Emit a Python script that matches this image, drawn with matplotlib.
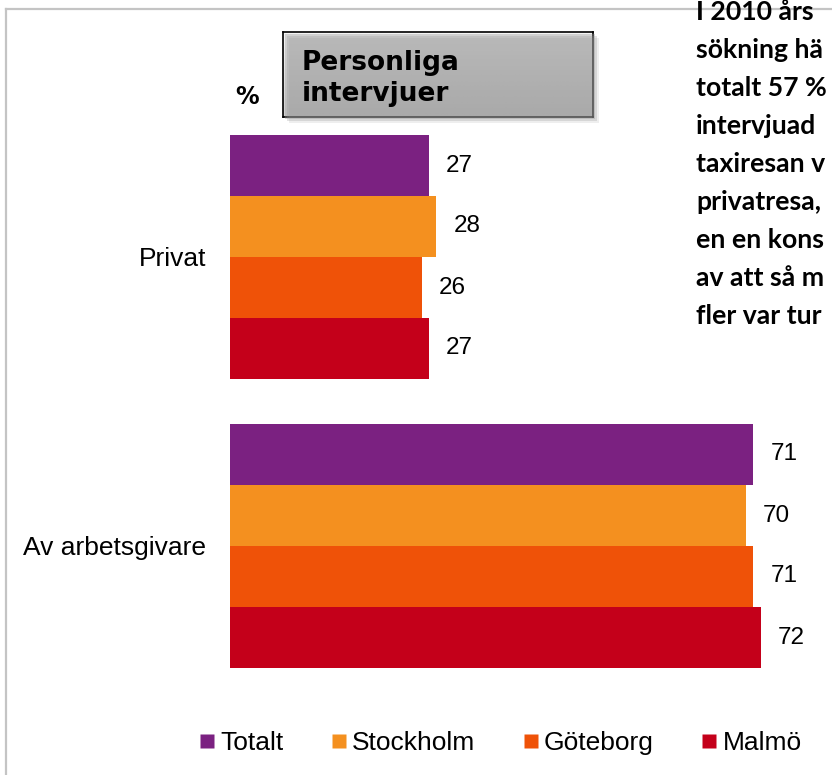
import matplotlib.pyplot as plt
import numpy as np
from matplotlib.lines import Line2D
from matplotlib.patches import Rectangle

# data
groups = ["Privat", "Av arbetsgivare"]
series = ["Totalt", "Stockholm", "Göteborg", "Malmö"]
values = {
    "Totalt":    [27, 71],
    "Stockholm": [28, 70],
    "Göteborg":  [26, 71],
    "Malmö":     [27, 72],
}
colors = ["#7B2181", "#F4901F", "#EF5208", "#C4001A"]
side_text = ["I 2010 års", "sökning hä", "totalt 57 %", "intervjuad",
             "taxiresan v", "privatresa,", "en en kons", "av att så m",
             "fler var tur"]

W, H = 832, 775
plt.rcParams['font.family'] = ['Liberation Sans', 'DejaVu Sans']

fig = plt.figure(figsize=(W / 100, H / 100), dpi=100)


def fx(x):
    return x / W


def fy(y):
    return 1 - y / H


# chart frame (only left and top edges visible)
fig.add_artist(Line2D([fx(6), fx(6)], [0, fy(9)], color="#c4c4c4", lw=1.6))
fig.add_artist(Line2D([fx(6), 1], [fy(9), fy(9)], color="#c4c4c4", lw=1.6))

# axes: x=0 at 230px, 7.37 px per unit
x0, scale = 230, 7.37
xmax = 80
top_px, bot_px = 120, 690
ax = fig.add_axes([fx(x0), fy(bot_px), xmax * scale / W, (bot_px - top_px) / H])
gap = 289.0
ax.set_ylim((bot_px - 257) / gap, -(257 - top_px) / gap)
ax.set_xlim(0, xmax)

h = 61 / gap
pos = np.arange(len(groups))
for i, s in enumerate(series):
    yy = pos + (i - 1.5) * h
    ax.barh(yy, values[s], height=h, color=colors[i], edgecolor="none")
    for y, v in zip(yy, values[s]):
        ax.text(v + 17 / scale, y, str(v), ha="left", va="center", fontsize=17.5)

ax.set_yticks(pos)
ax.set_yticklabels(groups, fontsize=19)
ax.tick_params(axis="y", length=0, pad=17)
ax.set_xticks([])
for sp in ax.spines.values():
    sp.set_visible(False)

# "%" label
fig.text(fx(247), fy(97), "%", fontsize=17, fontweight="bold",
         family="DejaVu Sans", ha="center", va="center")

# title box with shadow and gradient
bx0, by0, bx1, by1 = 283, 32, 593, 117
for d, a in [(6, 0.15), (4, 0.25), (2, 0.35)]:
    fig.add_artist(Rectangle((fx(bx0 + d), fy(by1 + d)), (bx1 - bx0) / W,
                             (by1 - by0) / H, facecolor="#909090",
                             edgecolor="none", alpha=a))
bax = fig.add_axes([fx(bx0), fy(by1), (bx1 - bx0) / W, (by1 - by0) / H])
grad = np.linspace(0.96, 0.81, 100).reshape(-1, 1)
bax.imshow(grad, aspect="auto", cmap="gray", vmin=0, vmax=1, extent=[0, 1, 0, 1])
bax.set_xticks([])
bax.set_yticks([])
for sp in bax.spines.values():
    sp.set_color("black")
    sp.set_linewidth(1.2)
fig.text(fx(302), fy(70), "Personliga", fontsize=19, fontweight="bold",
         family="DejaVu Sans", ha="left", va="baseline")
fig.text(fx(302), fy(101), "intervjuer", fontsize=19, fontweight="bold",
         family="DejaVu Sans", ha="left", va="baseline")

# side text at the right edge
fig.add_artist(Rectangle((fx(692), fy(335)), 1, 335 / H, facecolor="white",
                         edgecolor="none"))
for k, line in enumerate(side_text):
    fig.text(fx(696), fy(20 + 38 * k), line, fontsize=19.2, fontweight="bold",
             family=["Lato", "DejaVu Sans"], ha="left", va="baseline")

# legend
handles = [Line2D([], [], marker="s", linestyle="none", markersize=9.5,
                  markerfacecolor=c, markeredgecolor="none") for c in colors]
fig.legend(handles, series, loc="center", bbox_to_anchor=(fx(501), fy(743)),
           ncol=4, frameon=False, fontsize=19, handlelength=0.5,
           handletextpad=0.25, columnspacing=1.85, borderaxespad=0)

fig.savefig("out.png", dpi=100)
